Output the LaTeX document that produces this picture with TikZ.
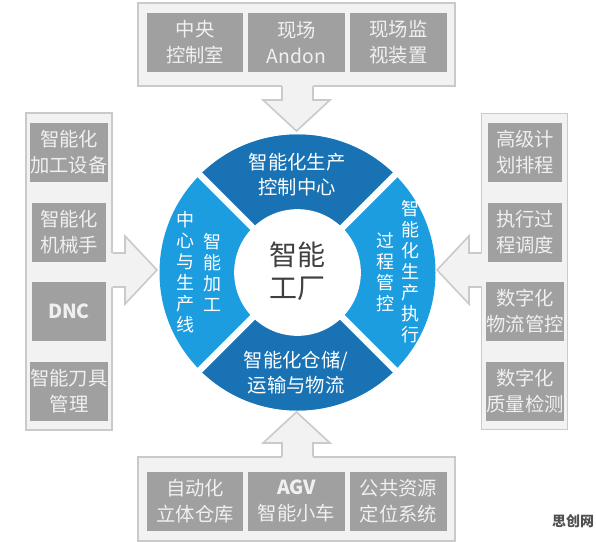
\documentclass[tikz,border=0pt]{standalone}
\usepackage{fontspec}
\setmainfont{Noto Sans CJK SC}
\definecolor{boxbg}{HTML}{F2F2F2}
\definecolor{boxline}{HTML}{CACACA}
\definecolor{itemgray}{HTML}{A0A0A0}
\definecolor{itemtext}{HTML}{F0F0F0}
\definecolor{darkblue}{HTML}{1872B4}
\definecolor{lightblue}{HTML}{1C9DE0}
\definecolor{coretext}{HTML}{404040}
\definecolor{wmgray}{HTML}{505050}
\begin{document}
\begin{tikzpicture}[x=0.75pt,y=-0.75pt,
  outerbox/.style={draw=boxline, fill=boxbg, line width=1.2pt, inner sep=0pt, outer sep=0pt},
  itembox/.style={fill=itemgray, text=itemtext, inner sep=0pt, outer sep=0pt, align=center,
    minimum height=44.25pt, font=\fontsize{14.5pt}{19.5pt}\selectfont},
  hbox/.style={itembox, minimum width=72.5pt},
  vbox/.style={itembox, minimum width=55.5pt},
  arrowfill/.style={fill=boxbg},
  arrowline/.style={draw=boxline, line width=1.2pt, line join=miter},
  sectortext/.style={text=white, align=center, inner sep=0pt, font=\fontsize{14.5pt}{18.75pt}\selectfont},
  vtext/.style={text=white, align=center, inner sep=0pt, font=\fontsize{13.5pt}{15.75pt}\selectfont},
  coretextstyle/.style={text=coretext, align=center, inner sep=0pt, font=\fontsize{21pt}{24.5pt}\selectfont}
]
\useasboundingbox (0,0) rectangle (596,542);
\fill[white] (0,0) rectangle (596,542);

% ---------- outer group boxes ----------
\node[outerbox, minimum width=237.75pt, minimum height=62.25pt] (topgroup) at (296.5,44.5) {};
\node[outerbox, minimum width=237.75pt, minimum height=63pt] (botgroup) at (296.5,499) {};
\node[outerbox, minimum width=64.5pt, minimum height=237.75pt] (leftgroup) at (69,271.5) {};
\node[outerbox, minimum width=64.5pt, minimum height=237pt] (rightgroup) at (524.5,271.5) {};

% ---------- block arrows ----------
% top (pointing down)
\fill[arrowfill] (282,84) -- (282,100) -- (263,100) -- (296.5,131) -- (330,100) -- (313,100) -- (313,84) -- cycle;
\draw[arrowline] (282,86.5) -- (282,100) -- (263,100) -- (296.5,131) -- (330,100) -- (313,100) -- (313,86.5);
% bottom (pointing up)
\fill[arrowfill] (282,459) -- (282,443) -- (263,443) -- (296.5,412) -- (330,443) -- (313,443) -- (313,459) -- cycle;
\draw[arrowline] (282,456.5) -- (282,443) -- (263,443) -- (296.5,412) -- (330,443) -- (313,443) -- (313,456.5);
% left (pointing right)
\fill[arrowfill] (110,253) -- (125,253) -- (125,236) -- (157,270) -- (125,304) -- (125,287) -- (110,287) -- cycle;
\draw[arrowline] (112.5,253) -- (125,253) -- (125,236) -- (157,270) -- (125,304) -- (125,287) -- (112.5,287);
% right (pointing left)
\fill[arrowfill] (484,253) -- (469,253) -- (469,236) -- (437,270) -- (469,304) -- (469,287) -- (484,287) -- cycle;
\draw[arrowline] (481.5,253) -- (469,253) -- (469,236) -- (437,270) -- (469,304) -- (469,287) -- (481.5,287);

% ---------- item boxes ----------
\node[hbox] (t1) at (195,42.5) {中央\\控制室};
\node[hbox] (t2) at (296.5,42.5) {现场\\Andon};
\node[hbox] (t3) at (398.5,42.5) {现场监\\视装置};

\node[hbox] (b1) at (195,501) {自动化\\立体仓库};
\node[hbox] (b2) at (296.5,501) {{\bfseries AGV}\\智能小车};
\node[hbox] (b3) at (398.5,501) {公共资源\\定位系统};

\node[vbox] (l1) at (69,152.5) {智能化\\加工设备};
\node[vbox] (l2) at (69,232) {智能化\\机械手};
\node[vbox] (l3) at (69,311.5) {\bfseries DNC};
\node[vbox] (l4) at (69,391) {智能刀具\\管理};

\node[vbox] (r1) at (525,152.5) {高级计\\划排程};
\node[vbox] (r2) at (525,232) {执行过\\程调度};
\node[vbox] (r3) at (525,311.5) {数字化\\物流管控};
\node[vbox] (r4) at (525,391) {数字化\\质量检测};

% ---------- central ring ----------
\coordinate (c) at (297.5,272.5);
\fill[lightblue] (c) circle[radius=103.5pt];
\fill[darkblue] (c) -- ++(45:103.5pt) arc[start angle=45, end angle=135, radius=103.5pt] -- cycle;
\fill[darkblue] (c) -- ++(225:103.5pt) arc[start angle=225, end angle=315, radius=103.5pt] -- cycle;
\draw[white, line width=5pt] (c) ++(45:105pt) -- ++(225:210pt);
\draw[white, line width=5pt] (c) ++(135:105pt) -- ++(315:210pt);
\node[circle, fill=white, minimum size=95pt, inner sep=0pt] (core) at (c) {};

\node[coretextstyle] (coretxt) at (297,271) {智能\\工厂};
\node[sectortext] (ctrl) at (297,174.5) {智能化生产\\控制中心};
\node[sectortext] (store) at (296,372.5) {智能化仓储/\\运输与物流};
\node[vtext] (lc1) at (185,272.5) {中\\心\\与\\生\\产\\线};
\node[vtext] (lc2) at (212,272) {智\\能\\加\\工};
\node[vtext] (rc1) at (385,272) {过\\程\\管\\控};
\node[vtext] (rc2) at (410,272) {智\\能\\化\\生\\产\\执\\行};

% ---------- watermark ----------
\node[text=wmgray, inner sep=0pt, font=\bfseries\fontsize{10.5pt}{12pt}\selectfont] (wm) at (573,521) {思创网};
\end{tikzpicture}
\end{document}
